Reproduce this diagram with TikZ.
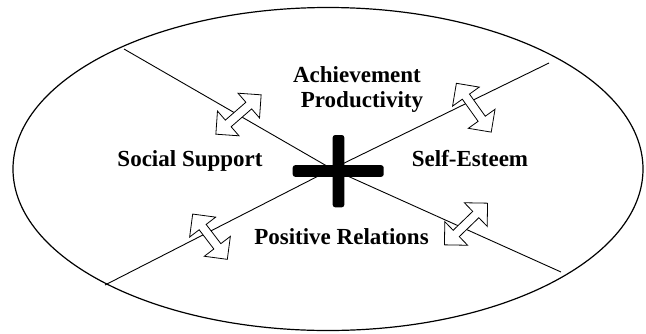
\documentclass[tikz,border=0pt]{standalone}
\usepackage{fontspec}
\setmainfont{Liberation Serif}
\usetikzlibrary{shapes.arrows}

\begin{document}
\begin{tikzpicture}[x=1pt, y=-1pt, every node/.style={font=\bfseries\fontsize{23}{25}\selectfont}]
\tikzstyle{txt}=[anchor=base, inner sep=0pt]
\tikzstyle{dblarrow}=[draw, fill=white, double arrow, double arrow head extend=12pt, minimum width=32pt, minimum height=60pt, inner xsep=0pt, inner ysep=4pt, line width=0.8pt]
\useasboundingbox (0,0) rectangle (646,333);
\draw[line width=1.2pt] (328,169) ellipse [x radius=315pt, y radius=161.5pt];
% the four spokes meet under the plus
\coordinate (c) at (332,169);
\coordinate (ul) at (124,49);
\coordinate (lr) at (561,272);
\coordinate (ll) at (105,285);
\coordinate (ur) at (549,63);
\draw[line width=0.9pt] (ul) -- (c) -- (lr);
\draw[line width=0.9pt] (ll) -- (c) -- (ur);
% two-way arrows on the spokes
\node[dblarrow, rotate=41] (ssa) at (238.5,114.5) {};
\node[dblarrow, rotate=-54.5] (sea) at (473.8,107.7) {};
\node[dblarrow, rotate=-52.6, minimum height=57pt] (pra) at (210,236.7) {};
\node[dblarrow, rotate=44] (spa) at (466,224) {};
% plus sign
\fill[rounded corners=2.5pt] (292.7,165.2) rectangle (383.7,176.8);
\fill[rounded corners=2.5pt] (332.7,135) rectangle (344.3,207.3);
\node[txt] (ach) at (357,82.5) {Achievement};
\node[txt] (prod) at (362,107.5) {Productivity};
\node[txt] (ss) at (190,166) {Social Support};
\node[txt] (se) at (470,166) {Self-Esteem};
\node[txt] (pr) at (341.5,244.5) {Positive Relations};
\end{tikzpicture}
\end{document}
